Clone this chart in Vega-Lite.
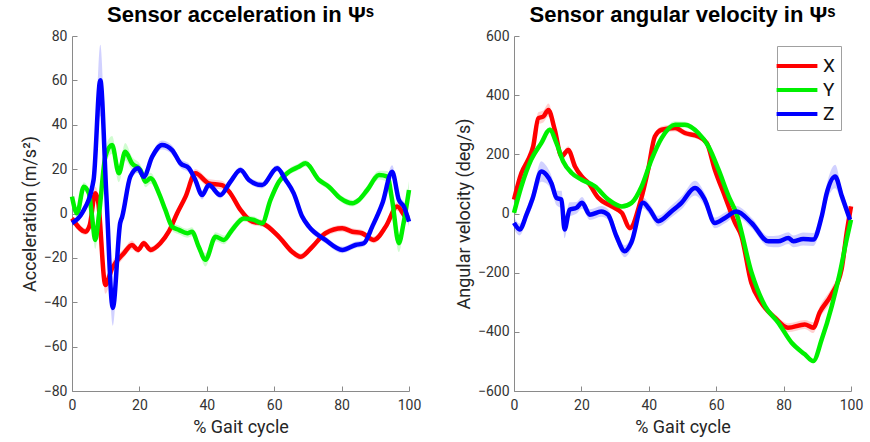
{
  "$schema": "https://vega.github.io/schema/vega-lite/v6.json",
  "background": "white",
  "padding": {"left": 21, "top": 4, "right": 10, "bottom": 2},
  "spacing": 34,
  "config": {
    "view": {"stroke": null},
    "font": "Roboto",
    "axis": {
      "grid": false,
      "domainColor": "#8a8a8a",
      "tickColor": "#8a8a8a",
      "tickSize": -5,
      "labelPadding": 10,
      "labelFontSize": 14,
      "labelColor": "#333333",
      "labelFont": "Roboto",
      "titleFont": "Roboto",
      "titleFontSize": 18,
      "titleFontWeight": "normal",
      "titleColor": "#262626"
    },
    "axisX": {"labelPadding": 12, "labelFlush": false},
    "title": {"fontSize": 22, "fontWeight": "bold", "color": "#000000", "anchor": "middle", "font": "Liberation Sans", "offset": 2},
    "legend": {
      "symbolType": "M-1.7,0H1.7",
      "symbolStrokeWidth": 4,
      "symbolSize": 576,
      "symbolOpacity": 1,
      "labelFontSize": 19,
      "labelColor": "#111111",
      "labelFont": "Roboto",
      "strokeColor": "#a0a0a0",
      "fillColor": "white",
      "padding": 6,
      "rowPadding": 0,
      "symbolOffset": 0,
      "labelOffset": 12
    }
  },
  "datasets": {
    "acc": [
      {"comp":"X","x":0,"v":-2.2,"sd":1.5},{"comp":"X","x":4.0,"v":-8.2,"sd":1.5},{"comp":"X","x":5.3,"v":-5,"sd":2},{"comp":"X","x":6.9,"v":9.1,"sd":3},{"comp":"X","x":7.7,"v":6,"sd":3},{"comp":"X","x":9.9,"v":-32.2,"sd":4},{"comp":"X","x":11.9,"v":-24.7,"sd":3},{"comp":"X","x":15.4,"v":-17.9,"sd":2},{"comp":"X","x":17.8,"v":-14.2,"sd":2},{"comp":"X","x":19.6,"v":-16.4,"sd":1.5},{"comp":"X","x":21.3,"v":-13.4,"sd":1.5},{"comp":"X","x":23.3,"v":-16.4,"sd":1.5},{"comp":"X","x":26.2,"v":-13.4,"sd":1.5},{"comp":"X","x":28.7,"v":-8.2,"sd":1.5},{"comp":"X","x":31.2,"v":0.1,"sd":1.5},{"comp":"X","x":33.7,"v":7.6,"sd":1.5},{"comp":"X","x":36.6,"v":18.1,"sd":2},{"comp":"X","x":40.6,"v":13.6,"sd":2},{"comp":"X","x":44.5,"v":12.8,"sd":2},{"comp":"X","x":47.0,"v":9.1,"sd":1.5},{"comp":"X","x":50.0,"v":1.6,"sd":1.5},{"comp":"X","x":53.5,"v":-3.7,"sd":1.5},{"comp":"X","x":56.4,"v":-4.4,"sd":1.5},{"comp":"X","x":61.4,"v":-10.5,"sd":1.5},{"comp":"X","x":65.3,"v":-17.2,"sd":1.5},{"comp":"X","x":67.8,"v":-19.5,"sd":1.5},{"comp":"X","x":71.3,"v":-15,"sd":1.5},{"comp":"X","x":75.2,"v":-8.9,"sd":1.5},{"comp":"X","x":80.2,"v":-6.7,"sd":1.5},{"comp":"X","x":83.2,"v":-8.2,"sd":1.5},{"comp":"X","x":86.1,"v":-8.9,"sd":1.5},{"comp":"X","x":89.6,"v":-11.9,"sd":1.5},{"comp":"X","x":93.1,"v":-5.9,"sd":1.5},{"comp":"X","x":96.5,"v":3.1,"sd":2},{"comp":"X","x":99.0,"v":-1.4,"sd":2},{"comp":"X","x":100,"v":-2,"sd":2},
      {"comp":"Y","x":0,"v":7.6,"sd":2},{"comp":"Y","x":1.5,"v":0.1,"sd":2},{"comp":"Y","x":3.5,"v":12.1,"sd":2},{"comp":"Y","x":5.0,"v":9.1,"sd":2},{"comp":"Y","x":5.9,"v":-0.7,"sd":3},{"comp":"Y","x":6.9,"v":-11.9,"sd":4},{"comp":"Y","x":8.0,"v":-0.7,"sd":4},{"comp":"Y","x":9.9,"v":25.6,"sd":4},{"comp":"Y","x":11.9,"v":30.9,"sd":4},{"comp":"Y","x":13.9,"v":18.1,"sd":4},{"comp":"Y","x":15.8,"v":27.8,"sd":4},{"comp":"Y","x":17.8,"v":22.6,"sd":3},{"comp":"Y","x":20.3,"v":19.6,"sd":2.5},{"comp":"Y","x":21.8,"v":14.3,"sd":2.5},{"comp":"Y","x":23.3,"v":15.9,"sd":2.5},{"comp":"Y","x":25.8,"v":9.1,"sd":2},{"comp":"Y","x":27.7,"v":1.6,"sd":2},{"comp":"Y","x":29.7,"v":-5.9,"sd":2},{"comp":"Y","x":31.7,"v":-7.4,"sd":2},{"comp":"Y","x":34.2,"v":-8.9,"sd":2},{"comp":"Y","x":35.6,"v":-8.2,"sd":2},{"comp":"Y","x":37.6,"v":-15,"sd":2},{"comp":"Y","x":39.6,"v":-20.9,"sd":3},{"comp":"Y","x":42.6,"v":-10.5,"sd":2},{"comp":"Y","x":45.1,"v":-11.9,"sd":2},{"comp":"Y","x":47.5,"v":-7.4,"sd":2},{"comp":"Y","x":51.0,"v":-2.2,"sd":1.5},{"comp":"Y","x":54.0,"v":-2.9,"sd":1.5},{"comp":"Y","x":56.4,"v":-4.4,"sd":1.5},{"comp":"Y","x":58.9,"v":6.1,"sd":1.5},{"comp":"Y","x":61.4,"v":14.3,"sd":1.5},{"comp":"Y","x":64.4,"v":18.8,"sd":1.5},{"comp":"Y","x":67.3,"v":21.1,"sd":1.5},{"comp":"Y","x":69.3,"v":22.6,"sd":1.5},{"comp":"Y","x":73.3,"v":15.1,"sd":1.5},{"comp":"Y","x":76.2,"v":12.1,"sd":1.5},{"comp":"Y","x":79.7,"v":6.8,"sd":1.5},{"comp":"Y","x":83.2,"v":4.6,"sd":1.5},{"comp":"Y","x":85.1,"v":6.1,"sd":1.5},{"comp":"Y","x":87.6,"v":10.6,"sd":2},{"comp":"Y","x":91.1,"v":17.3,"sd":2},{"comp":"Y","x":93.6,"v":16.6,"sd":2.5},{"comp":"Y","x":95.0,"v":6,"sd":3},{"comp":"Y","x":97.0,"v":-13.4,"sd":4},{"comp":"Y","x":98.3,"v":-5,"sd":4},{"comp":"Y","x":100,"v":10.6,"sd":4},
      {"comp":"Z","x":0,"v":-4.3,"sd":1.5},{"comp":"Z","x":3.0,"v":0.2,"sd":1.5},{"comp":"Z","x":6.4,"v":15.1,"sd":3},{"comp":"Z","x":8.4,"v":60.1,"sd":16},{"comp":"Z","x":10.2,"v":8.3,"sd":6},{"comp":"Z","x":12.1,"v":-42.6,"sd":8},{"comp":"Z","x":14.3,"v":-4.3,"sd":3},{"comp":"Z","x":14.9,"v":-1.4,"sd":2},{"comp":"Z","x":17.3,"v":16.6,"sd":2},{"comp":"Z","x":19.6,"v":20.4,"sd":2},{"comp":"Z","x":21.3,"v":16.6,"sd":2},{"comp":"Z","x":23.8,"v":25.6,"sd":2},{"comp":"Z","x":26.7,"v":30.9,"sd":2},{"comp":"Z","x":29.7,"v":28.6,"sd":2},{"comp":"Z","x":32.2,"v":22.6,"sd":2},{"comp":"Z","x":34.7,"v":20.4,"sd":2},{"comp":"Z","x":36.6,"v":15.1,"sd":2},{"comp":"Z","x":38.6,"v":8.3,"sd":2},{"comp":"Z","x":40.6,"v":12.8,"sd":1.5},{"comp":"Z","x":44.0,"v":8.3,"sd":1.5},{"comp":"Z","x":47.0,"v":14.3,"sd":1.5},{"comp":"Z","x":50.0,"v":19.6,"sd":1.5},{"comp":"Z","x":52.5,"v":15.1,"sd":1.5},{"comp":"Z","x":56.4,"v":12.8,"sd":1.5},{"comp":"Z","x":60.9,"v":20.4,"sd":1.5},{"comp":"Z","x":63.4,"v":15.1,"sd":1.5},{"comp":"Z","x":65.8,"v":9.1,"sd":1.5},{"comp":"Z","x":68.3,"v":-1.4,"sd":1.5},{"comp":"Z","x":70.3,"v":-5.9,"sd":1.5},{"comp":"Z","x":75.2,"v":-11.9,"sd":1.5},{"comp":"Z","x":80.2,"v":-16.4,"sd":1.5},{"comp":"Z","x":84.1,"v":-14.2,"sd":1.5},{"comp":"Z","x":86.6,"v":-13.4,"sd":1.5},{"comp":"Z","x":89.1,"v":-5.9,"sd":1.5},{"comp":"Z","x":92.1,"v":4.6,"sd":2},{"comp":"Z","x":95.0,"v":18.8,"sd":3},{"comp":"Z","x":97.0,"v":6.1,"sd":2},{"comp":"Z","x":98.5,"v":3.1,"sd":2},{"comp":"Z","x":100,"v":-3.7,"sd":2}
    ],
    "gyr": [
      {"comp":"X","x":0,"v":47,"sd":10},{"comp":"X","x":2.2,"v":137,"sd":12},{"comp":"X","x":4.2,"v":182,"sd":12},{"comp":"X","x":5.7,"v":227,"sd":15},{"comp":"X","x":7.2,"v":322,"sd":20},{"comp":"X","x":8.7,"v":328,"sd":20},{"comp":"X","x":10.2,"v":350,"sd":22},{"comp":"X","x":12.1,"v":283,"sd":15},{"comp":"X","x":14.1,"v":193,"sd":12},{"comp":"X","x":16.1,"v":215,"sd":12},{"comp":"X","x":18.1,"v":159,"sd":10},{"comp":"X","x":20.1,"v":125,"sd":10},{"comp":"X","x":22.1,"v":103,"sd":10},{"comp":"X","x":25,"v":53,"sd":10},{"comp":"X","x":29,"v":24,"sd":10},{"comp":"X","x":32,"v":2,"sd":10},{"comp":"X","x":34.4,"v":-49,"sd":12},{"comp":"X","x":37.5,"v":40,"sd":12},{"comp":"X","x":39.8,"v":148,"sd":12},{"comp":"X","x":41.8,"v":260,"sd":12},{"comp":"X","x":43.8,"v":283,"sd":12},{"comp":"X","x":47.8,"v":289,"sd":12},{"comp":"X","x":50.7,"v":272,"sd":10},{"comp":"X","x":54.7,"v":260,"sd":10},{"comp":"X","x":57.2,"v":238,"sd":10},{"comp":"X","x":59.6,"v":148,"sd":10},{"comp":"X","x":62.6,"v":58,"sd":10},{"comp":"X","x":65.6,"v":-32,"sd":10},{"comp":"X","x":67.5,"v":-77,"sd":10},{"comp":"X","x":70.4,"v":-234,"sd":10},{"comp":"X","x":73.4,"v":-302,"sd":12},{"comp":"X","x":77.4,"v":-352,"sd":12},{"comp":"X","x":81.3,"v":-386,"sd":15},{"comp":"X","x":86.3,"v":-375,"sd":15},{"comp":"X","x":88.8,"v":-386,"sd":18},{"comp":"X","x":90.7,"v":-335,"sd":20},{"comp":"X","x":94.2,"v":-274,"sd":22},{"comp":"X","x":97.2,"v":-189,"sd":15},{"comp":"X","x":98.7,"v":-66,"sd":12},{"comp":"X","x":100,"v":24,"sd":12},
      {"comp":"Y","x":0,"v":2,"sd":8},{"comp":"Y","x":2.2,"v":92,"sd":8},{"comp":"Y","x":5.1,"v":182,"sd":8},{"comp":"Y","x":8.1,"v":238,"sd":10},{"comp":"Y","x":10.6,"v":283,"sd":10},{"comp":"Y","x":12.6,"v":238,"sd":8},{"comp":"Y","x":14.6,"v":176,"sd":8},{"comp":"Y","x":17.1,"v":137,"sd":8},{"comp":"Y","x":20.1,"v":114,"sd":8},{"comp":"Y","x":24,"v":92,"sd":8},{"comp":"Y","x":28,"v":47,"sd":8},{"comp":"Y","x":32,"v":24,"sd":8},{"comp":"Y","x":34.9,"v":36,"sd":8},{"comp":"Y","x":37.9,"v":92,"sd":8},{"comp":"Y","x":40.8,"v":182,"sd":8},{"comp":"Y","x":43.8,"v":255,"sd":10},{"comp":"Y","x":47.8,"v":300,"sd":12},{"comp":"Y","x":50.7,"v":300,"sd":10},{"comp":"Y","x":54.7,"v":272,"sd":8},{"comp":"Y","x":57.7,"v":227,"sd":8},{"comp":"Y","x":60.7,"v":148,"sd":8},{"comp":"Y","x":63.7,"v":58,"sd":8},{"comp":"Y","x":66,"v":0,"sd":8},{"comp":"Y","x":70.5,"v":-200,"sd":8},{"comp":"Y","x":74.5,"v":-313,"sd":8},{"comp":"Y","x":78.4,"v":-369,"sd":8},{"comp":"Y","x":82.4,"v":-437,"sd":8},{"comp":"Y","x":86.3,"v":-476,"sd":8},{"comp":"Y","x":88.8,"v":-499,"sd":8},{"comp":"Y","x":91.3,"v":-426,"sd":8},{"comp":"Y","x":94.3,"v":-313,"sd":8},{"comp":"Y","x":96.7,"v":-200,"sd":8},{"comp":"Y","x":98.7,"v":-88,"sd":8},{"comp":"Y","x":100,"v":-21,"sd":8},
      {"comp":"Z","x":0,"v":-32,"sd":20},{"comp":"Z","x":1.7,"v":-54,"sd":20},{"comp":"Z","x":3.7,"v":-4,"sd":20},{"comp":"Z","x":5.5,"v":50,"sd":25},{"comp":"Z","x":8.1,"v":142,"sd":35},{"comp":"Z","x":9.6,"v":131,"sd":30},{"comp":"Z","x":11.1,"v":103,"sd":25},{"comp":"Z","x":12.6,"v":53,"sd":25},{"comp":"Z","x":14.1,"v":47,"sd":30},{"comp":"Z","x":15,"v":-54,"sd":30},{"comp":"Z","x":16.5,"v":13,"sd":25},{"comp":"Z","x":18.5,"v":19,"sd":20},{"comp":"Z","x":20.2,"v":36,"sd":20},{"comp":"Z","x":22.5,"v":-4,"sd":18},{"comp":"Z","x":25.9,"v":7,"sd":18},{"comp":"Z","x":27.9,"v":-4,"sd":18},{"comp":"Z","x":30.4,"v":-77,"sd":20},{"comp":"Z","x":32.9,"v":-128,"sd":20},{"comp":"Z","x":34.8,"v":-99,"sd":20},{"comp":"Z","x":38.3,"v":36,"sd":18},{"comp":"Z","x":40.3,"v":13,"sd":18},{"comp":"Z","x":42.8,"v":-26,"sd":18},{"comp":"Z","x":46.7,"v":7,"sd":20},{"comp":"Z","x":49.7,"v":36,"sd":22},{"comp":"Z","x":53.7,"v":86,"sd":25},{"comp":"Z","x":56.6,"v":47,"sd":22},{"comp":"Z","x":59.6,"v":-32,"sd":18},{"comp":"Z","x":62.6,"v":-15,"sd":18},{"comp":"Z","x":66,"v":7,"sd":18},{"comp":"Z","x":70.5,"v":-32,"sd":18},{"comp":"Z","x":75.5,"v":-94,"sd":18},{"comp":"Z","x":78.4,"v":-94,"sd":20},{"comp":"Z","x":81.4,"v":-83,"sd":20},{"comp":"Z","x":82.9,"v":-94,"sd":20},{"comp":"Z","x":85.8,"v":-86,"sd":22},{"comp":"Z","x":88.8,"v":-88,"sd":22},{"comp":"Z","x":91.3,"v":-10,"sd":25},{"comp":"Z","x":92.8,"v":69,"sd":30},{"comp":"Z","x":95.3,"v":125,"sd":40},{"comp":"Z","x":97.3,"v":58,"sd":25},{"comp":"Z","x":99.7,"v":-21,"sd":18}
    ]
  },
  "resolve": {"scale": {"color": "independent"}},
  "hconcat": [
    {
      "width": 337,
      "height": 355,
      "title": "Sensor acceleration in Ψˢ",
      "data": {"name": "acc"},
      "layer": [
        {
          "mark": {"type": "errorband", "interpolate": "monotone", "opacity": 0.18},
          "encoding": {
            "x": {"field": "x", "type": "quantitative", "scale": {"domain": [0, 100], "nice": false}, "axis": {"values": [0, 20, 40, 60, 80, 100], "title": "% Gait cycle", "titlePadding": 6}},
            "y": {"field": "v", "type": "quantitative", "scale": {"domain": [-80, 80], "nice": false}, "axis": {"values": [-80, -60, -40, -20, 0, 20, 40, 60, 80], "title": "Acceleration (m/s²)", "titlePadding": 4}},
            "yError": {"field": "sd"},
            "color": {"field": "comp", "type": "nominal", "scale": {"domain": ["X", "Y", "Z"], "range": ["#ff0000", "#00f000", "#0000ff"]}, "legend": null}
          }
        },
        {
          "mark": {"type": "line", "strokeWidth": 4.5, "interpolate": "monotone"},
          "encoding": {
            "x": {"field": "x", "type": "quantitative"},
            "y": {"field": "v", "type": "quantitative"},
            "color": {"field": "comp", "type": "nominal", "scale": {"domain": ["X", "Y", "Z"], "range": ["#ff0000", "#00f000", "#0000ff"]}, "legend": null}
          }
        }
      ]
    },
    {
      "width": 337,
      "height": 355,
      "title": "Sensor angular velocity in Ψˢ",
      "data": {"name": "gyr"},
      "layer": [
        {
          "mark": {"type": "errorband", "interpolate": "monotone", "opacity": 0.18},
          "encoding": {
            "x": {"field": "x", "type": "quantitative", "scale": {"domain": [0, 100], "nice": false}, "axis": {"values": [0, 20, 40, 60, 80, 100], "title": "% Gait cycle", "titlePadding": 6}},
            "y": {"field": "v", "type": "quantitative", "scale": {"domain": [-600, 600], "nice": false}, "axis": {"values": [-600, -400, -200, 0, 200, 400, 600], "title": "Angular velocity (deg/s)", "titlePadding": 4}},
            "yError": {"field": "sd"},
            "color": {"field": "comp", "type": "nominal", "scale": {"domain": ["X", "Y", "Z"], "range": ["#ff0000", "#00f000", "#0000ff"]}, "legend": {"orient": "top-right", "title": null, "offset": 10}}
          }
        },
        {
          "mark": {"type": "line", "strokeWidth": 4.5, "interpolate": "monotone"},
          "encoding": {
            "x": {"field": "x", "type": "quantitative"},
            "y": {"field": "v", "type": "quantitative"},
            "color": {"field": "comp", "type": "nominal", "scale": {"domain": ["X", "Y", "Z"], "range": ["#ff0000", "#00f000", "#0000ff"]}, "legend": {"orient": "top-right", "title": null, "offset": 10}}
          }
        }
      ]
    }
  ]
}
